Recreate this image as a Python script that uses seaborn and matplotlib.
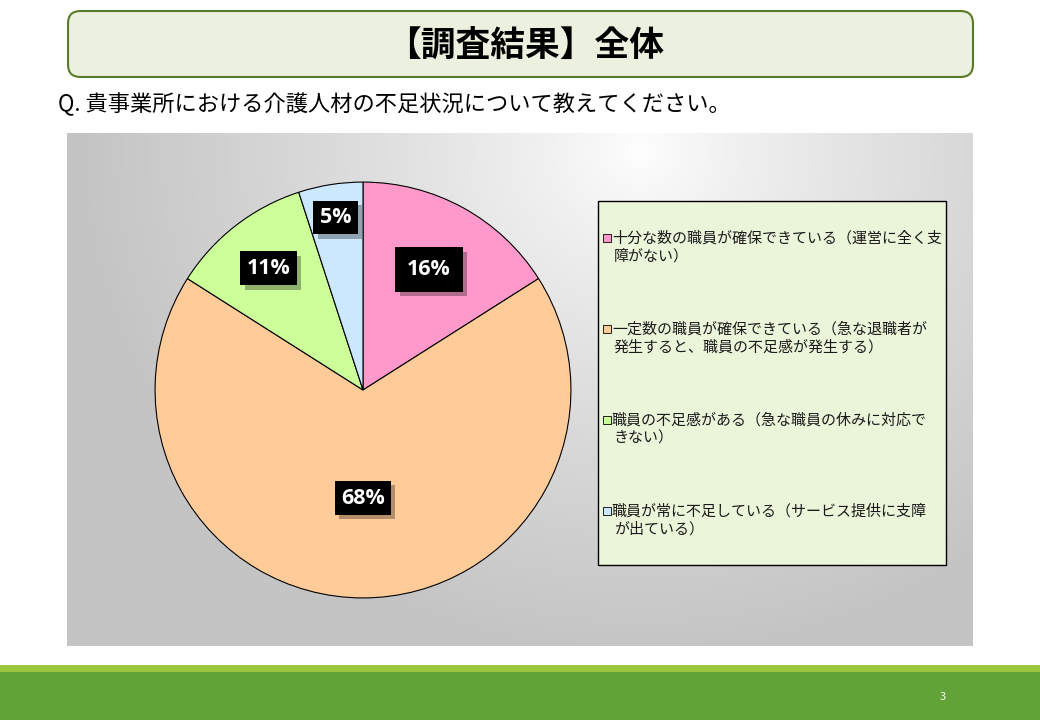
import numpy as np
import matplotlib
matplotlib.use("Agg")
import matplotlib.pyplot as plt
import seaborn as sns
from matplotlib.patches import FancyBboxPatch, Rectangle
import matplotlib.patheffects as pe

# ---- data ----
categories = [
    "十分な数の職員が確保できている（運営に全く支\n障がない）",
    "一定数の職員が確保できている（急な退職者が\n発生すると、職員の不足感が発生する）",
    "職員の不足感がある（急な職員の休みに対応で\nきない）",
    "職員が常に不足している（サービス提供に支障\nが出ている）",
]
shares = [16, 68, 11, 5]
pct_labels = ["16%", "68%", "11%", "5%"]
colors = ["#FF99CC", "#FFCC99", "#CCFF99", "#CCE8FF"]
title_text = "【調査結果】全体"
question_text = "Q. 貴事業所における介護人材の不足状況について教えてください。"
page_no = "3"

# label radial distances (style)
label_dist = [0.66, 0.52, 0.74, 0.84]
label_pad = [0.55, 0.3, 0.3, 0.3]

sns.set_theme(style="white")
palette = sns.color_palette(colors)
plt.rcParams["font.family"] = ["Noto Sans CJK JP", "DejaVu Sans"]

W, H = 1040, 720
fig = plt.figure(figsize=(W / 100, H / 100), dpi=100)
fig.patch.set_facecolor("white")


def fx(px):
    return px / W


def fy(py):
    return 1 - py / H


# ---- footer ----
fig.add_artist(Rectangle((0, fy(672)), 1, (672 - 665) / H, transform=fig.transFigure,
                         facecolor="#9BC53D", edgecolor="none"))
fig.add_artist(Rectangle((0, 0), 1, fy(672), transform=fig.transFigure,
                         facecolor="#62A337", edgecolor="none"))
fig.text(fx(943), fy(697), page_no, color="white", fontsize=8, ha="center", va="center")

# ---- title box ----
fig.add_artist(FancyBboxPatch((fx(68), fy(77)), fx(973) - fx(68), (77 - 11) / H,
                              boxstyle="round,pad=0,rounding_size=0.012",
                              transform=fig.transFigure, facecolor="#EBF1DE",
                              edgecolor="#5A7A2A", linewidth=1.5, mutation_aspect=W / H))
fig.text(fx(525), fy(45), title_text, fontsize=25, fontweight="bold", ha="center", va="center",
         color="black")
fig.text(fx(58), fy(104), question_text, fontsize=16, ha="left", va="center", color="black")

# ---- chart panel background (radial gradient) ----
px0, py0, px1, py1 = 67, 133, 973, 646
bg = fig.add_axes([fx(px0), fy(py1), fx(px1 - px0), (py1 - py0) / H])
xx, yy = np.meshgrid(np.linspace(px0, px1, 400), np.linspace(py0, py1, 250))
d = np.sqrt((xx - 640) ** 2 + ((yy - 150) / 0.9) ** 2)
t = np.clip(d / 560, 0, 1) ** 0.8
val = 1.0 - t * (1.0 - 0.77)
img = np.dstack([val, val, val])
bg.imshow(img, extent=[0, 1, 0, 1], origin="upper", aspect="auto")
bg.set_axis_off()

# ---- pie ----
cx, cy, r = 363, 390, 210
pax = fig.add_axes([fx(cx - r), fy(cy + r), fx(2 * r), 2 * r / H])
wedges, _ = pax.pie(shares, colors=palette, startangle=90, counterclock=False,
                    wedgeprops=dict(edgecolor="black", linewidth=0.8))
pax.set_xlim(-1.01, 1.01)
pax.set_ylim(-1.01, 1.01)
pax.set_aspect("equal")
pax.set_axis_off()

for w, lab, dist, pad in zip(wedges, pct_labels, label_dist, label_pad):
    ang = np.deg2rad((w.theta1 + w.theta2) / 2)
    x, y = dist * np.cos(ang), dist * np.sin(ang)
    t = pax.text(x, y, lab, fontsize=15.5, fontweight="bold", family=["Open Sans", "DejaVu Sans"],
                 ha="center", va="center", color="white",
                 bbox=dict(boxstyle=f"square,pad={pad}", facecolor="black", edgecolor="none"))
    t.get_bbox_patch().set_path_effects(
        [pe.SimplePatchShadow(offset=(3, -3), shadow_rgbFace="black", alpha=0.3), pe.Normal()])

# ---- legend (drawn manually so that the key aligns with the first line) ----
lx0, ly0, lx1, ly1 = 598, 201, 946, 565
fig.add_artist(Rectangle((fx(lx0), fy(ly1)), fx(lx1 - lx0), (ly1 - ly0) / H,
                         transform=fig.transFigure, facecolor="#EBF5DA",
                         edgecolor="black", linewidth=1.0))
first_line_y = 238
entry_step = 91
for i, (lab, c) in enumerate(zip(categories, palette)):
    yc = first_line_y + i * entry_step
    fig.add_artist(Rectangle((fx(603), fy(yc + 4)), fx(8), 8 / H, transform=fig.transFigure,
                             facecolor=c, edgecolor="black", linewidth=0.6))
    for j, ln in enumerate(lab.split("\n")):
        fig.text(fx(612 if j == 0 else 614), fy(yc + j * 18), ln, fontsize=10.8, ha="left",
                 va="center", color="#1a1a1a")

fig.savefig("out.png", dpi=100, facecolor="white")
